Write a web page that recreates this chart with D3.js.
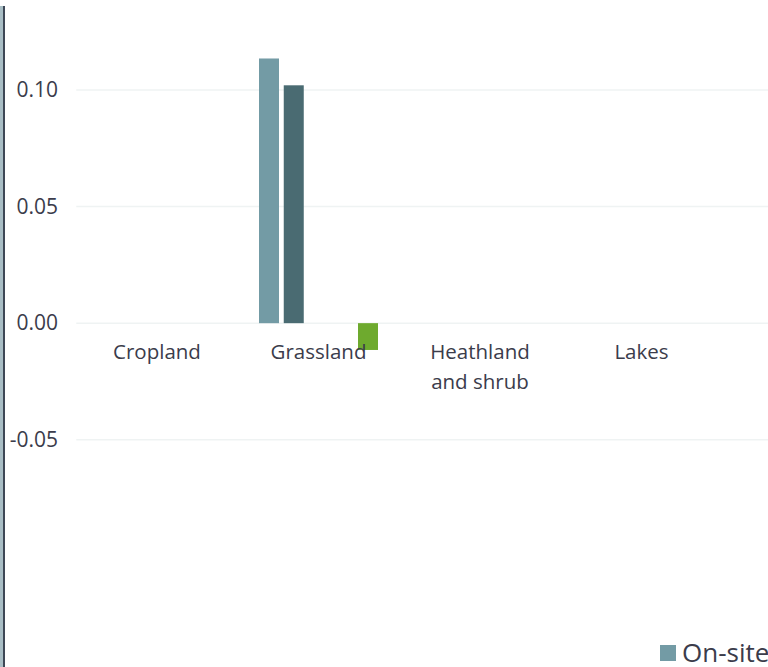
<!DOCTYPE html>
<html>
<head>
<meta charset="utf-8">
<script src="https://cdn.jsdelivr.net/npm/d3@7"></script>
<style>
  html, body { margin: 0; padding: 0; background: #fff; overflow: hidden; }
  svg { display: block; font-family: "Open Sans", sans-serif; }
</style>
</head>
<body>
<svg id="chart" width="768" height="667"></svg>
<script>
const categories = ["Cropland", "Grassland", "Heathland and shrub", "Lakes", "Urban"];
const seriesNames = ["On-site", "Off-site", "Series 3", "Series 4", "Series 5"];
const seriesColors = ["#739ba5", "#4a6b72", "#9cb8bf", "#2f4a50", "#6eaa2e"];
// values[series][category]
const values = [
  [0, 0.1135, 0, 0, 0],
  [0, 0.102, 0, 0, 0],
  [0, 0, 0, 0, 0],
  [0, 0, 0, 0, 0],
  [0, -0.0115, 0, 0, 0]
];
const yTicks = [-0.05, 0, 0.05, 0.10];
const yTickLabels = ["-0.05", "0.00", "0.05", "0.10"];

const svg = d3.select("#chart");
const textColor = "#3b3c4b";

// left border strip
svg.append("rect").attr("x", 0).attr("y", 6).attr("width", 3).attr("height", 661).attr("fill", "#a9bec5");
svg.append("rect").attr("x", 3).attr("y", 6).attr("width", 2).attr("height", 661).attr("fill", "#3e4856");

const x = d3.scaleBand().domain(categories).range([76.25, 76.25 + 161.5 * categories.length]).padding(0);
const y = d3.scaleLinear().domain([-0.1, 0.12]).range([556.33, 43.33]);
const xs = d3.scaleBand().domain(seriesNames).range([21.25, 21.25 + 119]).paddingInner(0.192).paddingOuter(0);

// gridlines
svg.append("g").selectAll("line").data(yTicks).join("line")
  .attr("x1", x.range()[0]).attr("x2", 768)
  .attr("y1", d => y(d)).attr("y2", d => y(d))
  .attr("stroke", "#eff3f3").attr("stroke-width", 1.5);

// y axis labels
const yAxis = d3.axisLeft(y).tickValues(yTicks).tickSize(0).tickPadding(0)
  .tickFormat((d, i) => yTickLabels[i]);
const gy = svg.append("g").attr("transform", "translate(58,0)").call(yAxis);
gy.select(".domain").remove();
gy.selectAll("text").attr("fill", textColor).style("font-size", "21px").style("font-family", "'Open Sans', sans-serif");

// bars
const groups = svg.append("g").selectAll("g").data(categories).join("g")
  .attr("transform", d => `translate(${x(d)},0)`);
groups.selectAll("rect").data((c, ci) => seriesNames.map((s, si) => ({s, si, v: values[si][ci]})))
  .join("rect")
  .attr("x", d => xs(d.s))
  .attr("width", xs.bandwidth())
  .attr("y", d => y(Math.max(0, d.v)))
  .attr("height", d => Math.abs(y(d.v) - y(0)))
  .attr("fill", d => seriesColors[d.si]);

// x labels
const xl = svg.append("g").selectAll("text").data(categories).join("text")
  .attr("x", d => x(d) + x.bandwidth() / 2)
  .attr("y", y(0) + 36)
  .attr("text-anchor", "middle")
  .attr("fill", textColor)
  .style("font-size", "20.5px");
xl.each(function(d) {
  const t = d3.select(this);
  const parts = d === "Heathland and shrub" ? ["Heathland", "and shrub"] : [d];
  parts.forEach((p, i) => t.append("tspan").attr("x", x(d) + x.bandwidth() / 2).attr("dy", i === 0 ? 0 : 30).text(p));
});

// legend
const leg = svg.append("g").attr("transform", "translate(660,645)");
const li = leg.selectAll("g").data(seriesNames).join("g")
  .attr("transform", (d, i) => `translate(${i * 150},0)`);
li.append("rect").attr("width", 16).attr("height", 16).attr("fill", (d, i) => seriesColors[i]);
li.append("text").attr("x", 22).attr("y", 17).attr("fill", textColor).style("font-size", "26px").text(d => d);
</script>
</body>
</html>
